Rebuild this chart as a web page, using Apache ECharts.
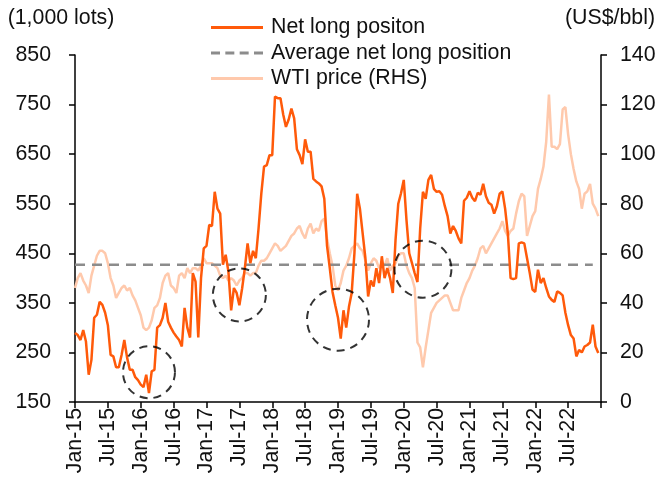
<!DOCTYPE html>
<html>
<head>
<meta charset="utf-8">
<script src="https://cdn.jsdelivr.net/npm/echarts@6/dist/echarts.min.js"></script>
<style>
html,body{margin:0;padding:0;background:#fff;}
#chart{width:661px;height:482px;}
</style>
</head>
<body>
<div id="chart"></div>
<script>
// Semi-monthly observations, Jan-2015 .. Dec-2022 (1st and 16th of each month)
const netLong = [
  289,285,275,295,272,205,235,320,326,352,346,330,305,245,242,220,220,245,275,240,215,215,200,194,185,180,205,168,212,215,300,305,
  320,350,312,300,290,282,275,262,340,300,280,410,393,280,400,460,465,507,505,574,540,530,427,447,413,335,380,370,345,379,420,470,430,455,
  440,500,570,625,628,648,648,766,763,763,730,705,720,742,722,660,648,630,680,655,655,600,595,591,585,560,
  465,420,372,345,320,278,335,300,342,370,450,570,540,490,440,363,395,383,420,390,444,400,420,400,370,477,550,571,598,517,450,430,410,392,500,574,560,598,608,580,
  574,575,568,545,525,490,505,495,480,470,556,562,575,562,555,572,568,590,565,552,548,530,545,
  570,575,540,490,400,398,400,470,472,470,440,410,377,372,417,390,400,380,363,356,352,373,370,365,330,305,285,278,242,255,250,262,265,270,306,262,249
];
const wtiPrice = [
  46,50,52,49,47,44,51,55,59,61,61,60,56,50,47,42,44,46,47,45,46,43,41,38,35,30,29,30,33,38,39,42,
  48,51,52,47,46,44,51,52,50,54,52,54,54,53,55,58,56,56,56,55,54,51,50,51,49,50,49,47,49,50,52,52,51,52,
  52,55,57,57,58,60,62,64,63,61,62,63,65,67,68,70,71,68,66,70,72,68,70,69,73,74,66,60,55,47,45,48,53,
  55,58,62,63,64,62,61,57,53,56,58,57,54,56,55,58,53,55,56,59,60,60,55,52,50,46,24,22,14,22,29,36,38,
  40,41,42,43,43,40,37,37,37,42,45,48,50,53,55,58,62,63,60,62,64,66,68,70,73,69,67,69,70,76,81,84,83,67,71,75,77,86,90,95,
  105,124,103,103,102,104,118,119,108,100,94,89,86,78,84,85,88,80,78,75
];
const avgNetLong = 427;
const avgEnd = '2022-11-16';

// highlighted periods (dashed circles)
const circleDates  = ['2016-02-16', '2017-07-01', '2019-01-01', '2020-04-16'];
const circleLevels = [210, 366, 316, 418];

const monthNames = ['Jan','Feb','Mar','Apr','May','Jun','Jul','Aug','Sep','Oct','Nov','Dec'];
const categories = [];
for (let y = 2015; y <= 2022; y++) {
  for (let m = 1; m <= 12; m++) {
    const mm = (m < 10 ? '0' : '') + m;
    categories.push(y + '-' + mm + '-01', y + '-' + mm + '-16');
  }
}
categories.push('2023-01-01');

const avgData = categories.map((c, i) => (c <= avgEnd && i < netLong.length) ? avgNetLong : null);

const FONT = 'Liberation Sans';
const FS = 21.33;
const chart = echarts.init(document.getElementById('chart'), null, {renderer: 'canvas'});
const circleSizes = [52, 53, 62, 57];

const solidIcon = 'path://M0,0h52v3h-52z';
const dashIcon = 'path://M0,0h9v3h-9zM14.33,0h9v3h-9zM28.67,0h9v3h-9zM43,0h9v3h-9z';

chart.setOption({
  animation: false,
  backgroundColor: '#fff',
  textStyle: {fontFamily: FONT},
  grid: {left: 75, right: 60, top: 55, bottom: 80},
  legend: {
    orient: 'vertical',
    left: 206, top: 12,
    itemWidth: 52, itemHeight: 3, itemGap: 4.5,
    textStyle: {fontFamily: FONT, fontSize: FS, lineHeight: 21, color: '#111', padding: [0, 0, 0, 3]},
    data: [
      {name: 'Net long positon', icon: solidIcon},
      {name: 'Average net long position', icon: dashIcon},
      {name: 'WTI price (RHS)', icon: solidIcon}
    ]
  },
  xAxis: {
    type: 'category',
    data: categories,
    boundaryGap: false,
    axisLine: {lineStyle: {color: '#000', width: 1.5}},
    axisTick: {show: true, length: 6, lineStyle: {color: '#000', width: 1.5},
      interval: function (idx) { return idx % 12 === 0; }},
    axisLabel: {
      rotate: 90, margin: 6,
      fontFamily: FONT, fontSize: FS, color: '#111',
      interval: function (idx) { return idx % 12 === 0 && idx < 192; },
      formatter: function (v) {
        const p = v.split('-');
        return monthNames[+p[1] - 1] + '-' + p[0].slice(2);
      }
    },
    splitLine: {show: false}
  },
  yAxis: [
    {
      type: 'value', min: 150, max: 850, interval: 100,
      name: '(1,000 lots)', nameLocation: 'end', nameGap: 26,
      nameTextStyle: {fontFamily: FONT, fontSize: FS, color: '#111', align: 'center', padding: [0, 28, 0, 0]},
      axisLine: {show: true, lineStyle: {color: '#000', width: 1.5}},
      axisTick: {show: true, length: 6, lineStyle: {color: '#000', width: 1.5}},
      axisLabel: {fontFamily: FONT, fontSize: FS, color: '#111', margin: 24},
      splitLine: {show: false}
    },
    {
      type: 'value', min: 0, max: 140, interval: 20,
      name: '(US$/bbl)', nameLocation: 'end', nameGap: 26,
      nameTextStyle: {fontFamily: FONT, fontSize: FS, color: '#111', align: 'center', padding: [0, 0, 0, 18]},
      axisLine: {show: true, lineStyle: {color: '#000', width: 1.5}},
      axisTick: {show: true, length: 6, lineStyle: {color: '#000', width: 1.5}},
      axisLabel: {fontFamily: FONT, fontSize: FS, color: '#111', margin: 19},
      splitLine: {show: false}
    }
  ],
  series: [
    {
      name: 'WTI price (RHS)', type: 'line', yAxisIndex: 1,
      data: wtiPrice, showSymbol: false, symbol: 'none',
      lineStyle: {color: '#FFC9AC', width: 2.5}, itemStyle: {color: '#FFC9AC'}, z: 1
    },
    {
      name: 'Average net long position', type: 'line', yAxisIndex: 0,
      data: avgData, showSymbol: false, symbol: 'none',
      lineStyle: {color: '#8C8C8C', width: 2.5, type: [10, 7]}, itemStyle: {color: '#8C8C8C'}, z: 2
    },
    {
      name: 'Net long positon', type: 'line', yAxisIndex: 0,
      data: netLong, showSymbol: false, symbol: 'none',
      lineStyle: {color: '#FF5A0A', width: 2.5}, itemStyle: {color: '#FF5A0A'}, z: 3
    },
    {
      name: 'highlight', type: 'scatter', yAxisIndex: 0, silent: true,
      data: circleDates.map((d, i) => [d, circleLevels[i]]),
      symbol: 'circle',
      symbolSize: function (v, p) { return circleSizes[p.dataIndex]; },
      itemStyle: {color: 'rgba(0,0,0,0)', borderColor: '#000', borderWidth: 2, borderType: [8, 6]},
      z: 4
    }
  ]
});
</script>
</body>
</html>
